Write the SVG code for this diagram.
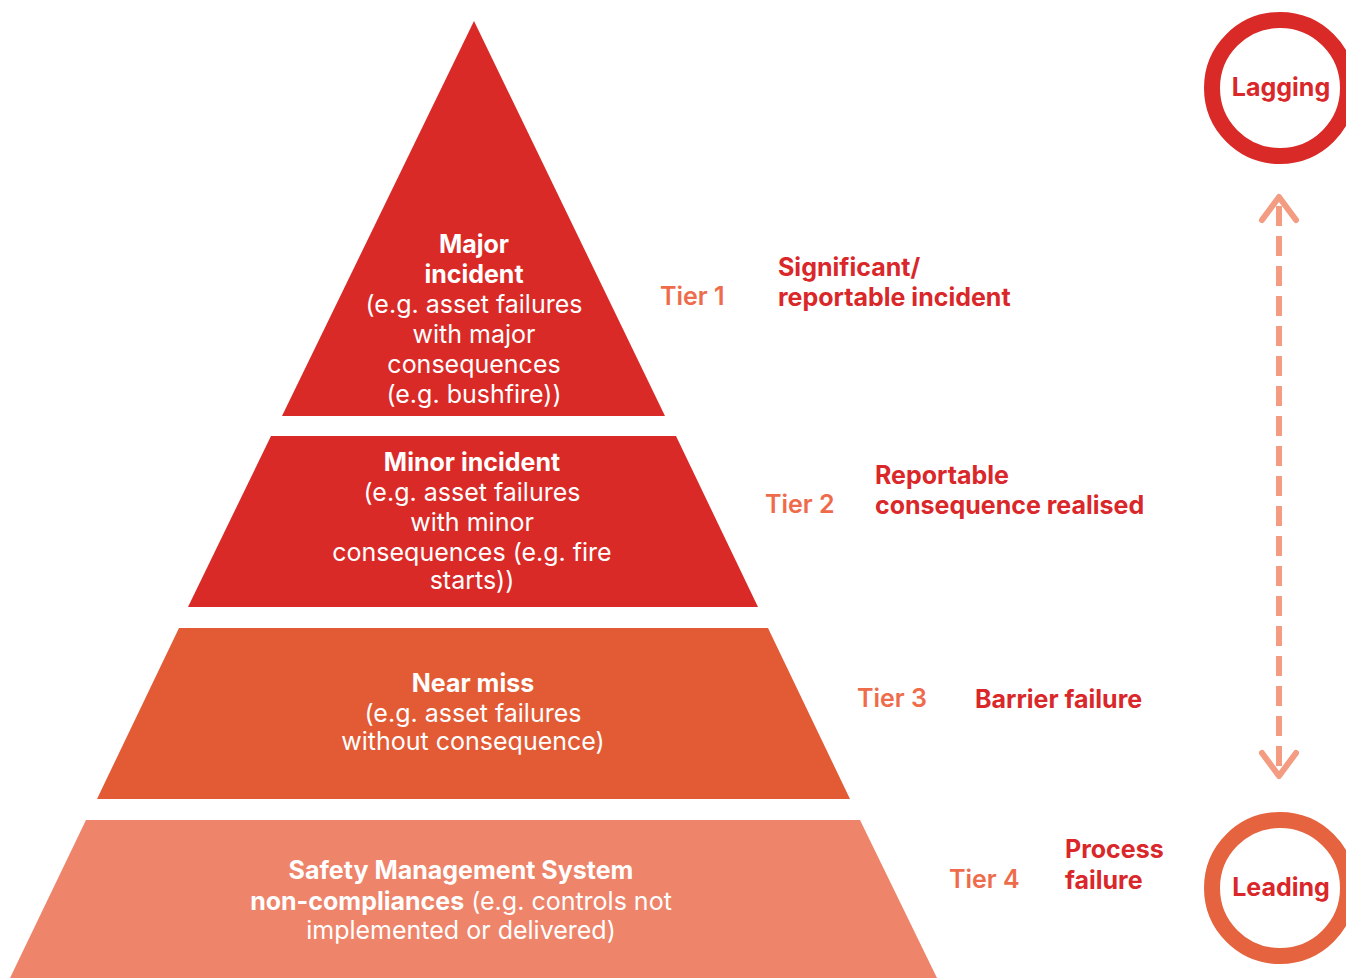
<svg xmlns="http://www.w3.org/2000/svg" width="1346" height="978" viewBox="0 0 1346 978">
  <style>
    text { font-family: Inter, "Noto Sans", "Liberation Sans", sans-serif; font-size: 25px; }
    .in { fill: #ffffff; text-anchor: middle; }
    .b { font-weight: 700; }
    .tier { fill: #EE6B4B; font-weight: 600; }
    .desc { fill: #D9272A; font-weight: 700; }
    .dash { stroke: #F39C82; stroke-width: 6; fill: none; }
    .head { fill: none; stroke: #F39C82; stroke-width: 6; stroke-linecap: round; stroke-linejoin: round; }
  </style>

  <!-- Tier 1 -->
  <g id="tier1">
    <polygon points="474,21 665,416 282,416" fill="#DA2A27"/>
    <text class="in b" x="474" y="253">Major</text>
    <text class="in b" x="474" y="283">incident</text>
    <text class="in" x="474" y="313">(e.g. asset failures</text>
    <text class="in" x="474" y="343">with major</text>
    <text class="in" x="474" y="373">consequences</text>
    <text class="in" x="474" y="403">(e.g. bushfire))</text>
  </g>

  <!-- Tier 2 -->
  <g id="tier2">
    <polygon points="271,436 676,436 758,607 188,607" fill="#DA2A27"/>
    <text class="in b" x="472" y="471">Minor incident</text>
    <text class="in" x="472" y="501">(e.g. asset failures</text>
    <text class="in" x="472" y="531">with minor</text>
    <text class="in" x="472" y="561">consequences (e.g. fire</text>
    <text class="in" x="472" y="589">starts))</text>
  </g>

  <!-- Tier 3 -->
  <g id="tier3">
    <polygon points="179,628 768,628 850,799 97,799" fill="#E25B35"/>
    <text class="in b" x="473" y="692">Near miss</text>
    <text class="in" x="473" y="722">(e.g. asset failures</text>
    <text class="in" x="473" y="750">without consequence)</text>
  </g>

  <!-- Tier 4 -->
  <g id="tier4">
    <polygon points="86,820 860,820 937,978 10,978" fill="#EE846A"/>
    <text class="in b" x="461" y="879">Safety Management System</text>
    <text class="in" x="461" y="910"><tspan class="b">non-compliances</tspan> (e.g. controls not</text>
    <text class="in" x="461" y="939">implemented or delivered)</text>
  </g>

  <!-- Tier labels and descriptions -->
  <g id="label1">
    <text class="tier" x="660" y="305">Tier 1</text>
    <text class="desc" x="778" y="276">Significant/</text>
    <text class="desc" x="778" y="306">reportable incident</text>
  </g>
  <g id="label2">
    <text class="tier" x="765" y="513">Tier 2</text>
    <text class="desc" x="875" y="484">Reportable</text>
    <text class="desc" x="875" y="514">consequence realised</text>
  </g>
  <g id="label3">
    <text class="tier" x="857" y="707">Tier 3</text>
    <text class="desc" x="975" y="708">Barrier failure</text>
  </g>
  <g id="label4">
    <text class="tier" x="949" y="888">Tier 4</text>
    <text class="desc" x="1065" y="858">Process</text>
    <text class="desc" x="1065" y="889">failure</text>
  </g>

  <!-- Indicator circles -->
  <g id="lagging">
    <circle cx="1280" cy="88" r="68" fill="#ffffff" stroke="#DA2A27" stroke-width="16"/>
    <text class="b" x="1281" y="96" text-anchor="middle" fill="#D9272A">Lagging</text>
  </g>
  <g id="leading">
    <circle cx="1280" cy="888" r="68" fill="#ffffff" stroke="#E5633F" stroke-width="16"/>
    <text class="b" x="1281" y="896" text-anchor="middle" fill="#D9272A">Leading</text>
  </g>

  <!-- Connectors: two-way dashed arrow between the indicators -->
  <g id="connectors">
    <line class="dash" x1="1279" y1="206" x2="1279" y2="768" stroke-dasharray="20 10"/>
    <path class="head" d="M1262 220 L1279 197 L1296 220"/>
    <path class="head" d="M1262 753 L1279 776 L1296 753"/>
  </g>
</svg>
